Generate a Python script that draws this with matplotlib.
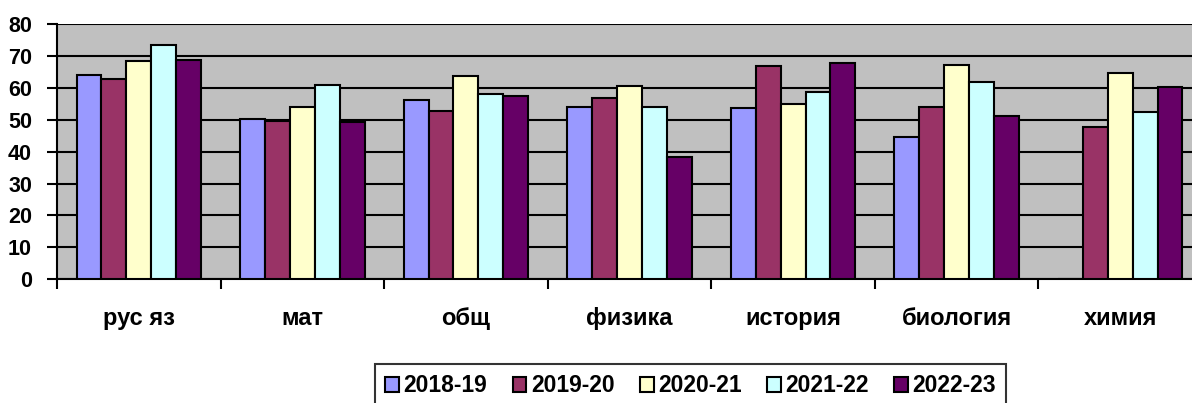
import matplotlib.pyplot as plt
import numpy as np

plt.rcParams['font.family'] = ['Liberation Sans', 'DejaVu Sans']

categories = ['рус яз', 'мат', 'общ', 'физика', 'история', 'биология', 'химия']
years = ['2018-19', '2019-20', '2020-21', '2021-22', '2022-23']
v2018 = [64.1, 50.2, 56.2, 54.1, 53.8, 44.7, 0]
v2019 = [62.9, 49.7, 52.8, 56.8, 66.9, 53.9, 47.8]
v2020 = [68.5, 53.9, 63.6, 60.5, 55.0, 67.2, 64.7]
v2021 = [73.4, 60.8, 58.1, 53.9, 58.6, 61.7, 52.3]
v2022 = [68.8, 49.3, 57.4, 38.3, 67.9, 51.2, 60.2]
series = [v2018, v2019, v2020, v2021, v2022]
colors = ['#9999FF', '#993366', '#FFFFCC', '#CCFFFF', '#660066']

fig = plt.figure(figsize=(11.92, 4.03), dpi=100)
ax = fig.add_axes([57 / 1192, 123.7 / 403, 1145 / 1192, 255.3 / 403])
ax.set_facecolor('#C0C0C0')

x = np.arange(len(categories))
w = 0.152
for i, (vals, c, lab) in enumerate(zip(series, colors, years)):
    ax.bar(x + (i - 2) * w, vals, w, color=c, edgecolor='black', linewidth=1.5,
           label=lab, zorder=3)

ax.set_ylim(0, 80)
ax.set_xlim(-0.5, len(categories) - 0.5)
ax.set_yticks(range(0, 81, 10))
ax.yaxis.grid(True, color='black', linewidth=1.5, zorder=1)
ax.set_axisbelow(True)
for s in ax.spines.values():
    s.set_linewidth(1.5)
ax.spines['right'].set_visible(False)
ax.spines['top'].set_visible(False)
ax.tick_params(axis='y', length=7, width=1.5, labelsize=15.5, pad=11)
for t in ax.get_yticklabels():
    t.set_fontweight('bold')

ax.set_xticks(x)
ax.set_xticklabels(categories, fontsize=17, fontweight='bold')
ax.tick_params(axis='x', length=0, pad=20)
ax.set_xticks(np.arange(-0.5, len(categories), 1), minor=True)
ax.tick_params(axis='x', which='minor', length=7, width=1.5)

leg = fig.legend(loc='upper left', bbox_to_anchor=(375 / 1192, 1 - 364 / 403),
                 ncol=5, prop={'weight': 'bold', 'size': 16.5},
                 frameon=True, fancybox=False, edgecolor='black',
                 handlelength=0.6, handleheight=0.6, handletextpad=0.2,
                 columnspacing=1.1, borderpad=0.45, borderaxespad=0)
leg.get_frame().set_linewidth(1.5)

fig.savefig('out.png', dpi=100)
